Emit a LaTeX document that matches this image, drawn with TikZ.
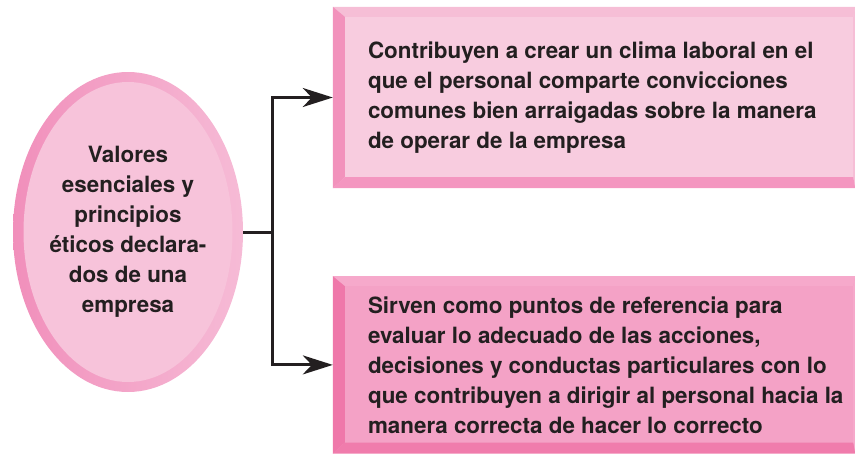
\documentclass[tikz,border=0pt]{standalone}
\usepackage{fontspec}
\setmainfont{TeX Gyre Heros}
\usepackage{tikz}
\usetikzlibrary{arrows.meta,positioning,shapes.geometric,calc}
\definecolor{inkblack}{RGB}{35,31,32}
\definecolor{ringdark}{RGB}{241,143,187}
\definecolor{ringlight}{RGB}{246,187,214}
\definecolor{ellfill}{RGB}{247,195,218}
\definecolor{climafill}{RGB}{248,204,223}
\definecolor{climatop}{RGB}{246,190,214}
\definecolor{climaleft}{RGB}{242,146,188}
\definecolor{climabot}{RGB}{244,150,192}
\definecolor{reffill}{RGB}{244,162,198}
\definecolor{reftop}{RGB}{246,169,203}
\definecolor{refleft}{RGB}{239,120,170}
\definecolor{refbot}{RGB}{240,124,172}
% bevelled frame round a box node: #1 node, #2 top/right, #3 left, #4 bottom
\newcommand{\bevel}[4]{%
  \fill[#2] (#1.north west) -- (#1.north east) -- ($(#1.north east)+(-2,10)$) -- ($(#1.north west)+(12,10)$) -- cycle;
  \fill[#2] (#1.north east) -- (#1.south east) -- ($(#1.south east)+(-2,-11)$) -- ($(#1.north east)+(-2,10)$) -- cycle;
  \fill[#3] (#1.north west) -- ($(#1.north west)+(12,10)$) -- ($(#1.south west)+(12,-11)$) -- (#1.south west) -- cycle;
  \fill[#4] (#1.south west) -- ($(#1.south west)+(12,-11)$) -- ($(#1.south east)+(-2,-11)$) -- (#1.south east) -- cycle;
}

\begin{document}
\begin{tikzpicture}[x=1pt, y=-1pt,
    every node/.style={font=\fontsize{22.4}{30}\selectfont\bfseries, text=inkblack},
    ring/.style={ellipse, minimum width=230pt, minimum height=320pt, inner sep=0pt, left color=ringdark, right color=ringlight},
    box/.style={rectangle, minimum width=522pt, inner sep=0pt},
    txt/.style={align=left, anchor=west, inner sep=0pt},
    arr/.style={-{Stealth[length=30pt, width=19pt, inset=9pt]}, line width=3pt, draw=inkblack}
  ]
  \useasboundingbox (0,0) rectangle (855,453);

  % ellipse on the left
  \node[ring] (ring) at (128,232) {};
  \fill[ellfill] (ring.center) ellipse (104.5 and 150);
  \node[align=center, inner sep=0pt] (valores) at (ring.center) {Valores\\esenciales y\\principios\\éticos declara-\\dos de una\\empresa};

  % boxes on the right
  \node[box, minimum height=181pt, fill=climafill] (clima) at (594,97.5) {};
  \node[box, minimum height=177pt, fill=reffill, below=88pt of clima] (referencia) {};
  \bevel{clima}{climatop}{climaleft}{climabot}
  \bevel{referencia}{reftop}{refleft}{refbot}
  \node[txt] (climatxt) at ($(clima.west)+(35,0)$) {Contribuyen a crear un clima laboral en el\\que el personal comparte convicciones\\comunes bien arraigadas sobre la manera\\de operar de la empresa};
  \node[txt] (reftxt) at ($(referencia.west)+(35,0)$) {Sirven como puntos de referencia para\\evaluar lo adecuado de las acciones,\\decisiones y conductas particulares con lo\\que contribuyen a dirigir al personal hacia la\\manera correcta de hacer lo correcto};

  % connectors
  \coordinate[right=29pt of ring.east] (split);
  \draw[line width=3pt, inkblack] (ring.east) -- (split);
  \draw[arr] (split) |- (clima.west);
  \draw[arr] (split) |- (referencia.west);
\end{tikzpicture}
\end{document}
